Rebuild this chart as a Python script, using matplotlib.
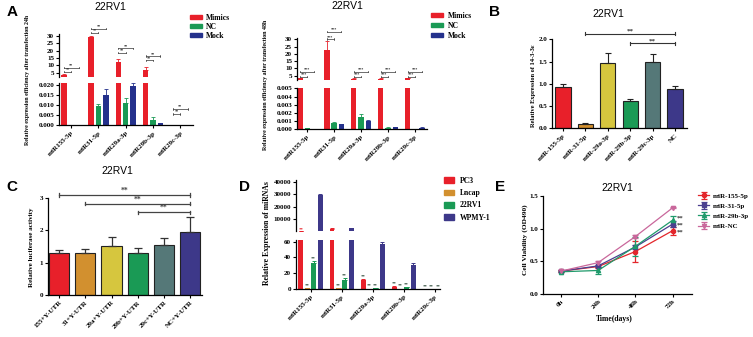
import numpy as np
import matplotlib
matplotlib.use('Agg')
import matplotlib.pyplot as plt
from matplotlib.patches import Patch

# ---- data ----
mirs = ['miR155-5p', 'miR31-5p', 'miR29a-3p', 'miR29b-3p', 'miR29c-3p']

# A: transfection efficiency 24h
mim_24 = [3.5, 29.0, 12.0, 7.0, 0.0]
mim_24_err = [0.4, 1.0, 2.6, 2.0, 0.0]
nc_24 = [0.0, 0.0095, 0.011, 0.0025, 0.0003]
nc_24_err = [0.0, 0.001, 0.0025, 0.0015, 0.0001]
mock_24 = [0.0, 0.015, 0.0195, 0.001, 0.0]
mock_24_err = [0.0, 0.003, 0.0017, 0.0002, 0.0]

# A: transfection efficiency 48h
mim_48 = [3.3, 22.5, 3.0, 3.0, 3.3]
mim_48_err = [0.3, 6.0, 0.3, 0.3, 0.3]
nc_48 = [0.0001, 0.0008, 0.0015, 0.0002, 0.0]
nc_48_err = [0.00003, 0.0001, 0.0004, 0.00005, 0.0]
mock_48 = [0.00005, 0.0006, 0.001, 0.00025, 0.0002]
mock_48_err = [0.00001, 0.00008, 0.0001, 0.00003, 0.00003]

# B: 14-3-3e expression
b_labels = ['miR-155-5p', 'miR-31-5p', 'miR-29a-3p', 'miR-29b-3p', 'miR-29c-3p', 'NC']
b_vals = [0.93, 0.09, 1.47, 0.61, 1.48, 0.88]
b_err = [0.07, 0.02, 0.23, 0.04, 0.2, 0.08]

# C: luciferase
c_labels = ['155+Y-UTR', '31+Y-UTR', '29a+Y-UTR', '29b+Y-UTR', '29c+Y-UTR', 'NC+Y-UTR']
c_vals = [1.28, 1.29, 1.51, 1.28, 1.53, 1.95]
c_err = [0.1, 0.12, 0.27, 0.16, 0.24, 0.45]

# D: miRNA expression in cell lines
pc3 = [300, 2500, 11, 3, 0.3]
pc3_err = [20, 200, 1.5, 0.8, 0.1]
lncap = [1.5, 1.2, 0.5, 0.5, 0.3]
lncap_err = [0.3, 0.3, 0.1, 0.1, 0.1]
rv22 = [33, 12, 0.8, 2, 0.3]
rv22_err = [3, 2, 0.2, 0.4, 0.1]
wpmy = [29000, 3000, 57, 30, 17]
wpmy_err = [800, 300, 3, 3.5, 1.5]

# E: cell viability
times = ['0h', '24h', '48h', '72h']
e155 = [0.35, 0.42, 0.65, 0.97]
e155_err = [0.01, 0.02, 0.16, 0.06]
e31 = [0.35, 0.43, 0.72, 1.07]
e31_err = [0.01, 0.02, 0.03, 0.04]
e29b = [0.34, 0.36, 0.73, 1.13]
e29b_err = [0.01, 0.05, 0.15, 0.07]
enc = [0.35, 0.48, 0.88, 1.32]
enc_err = [0.01, 0.03, 0.03, 0.01]

RED = '#e8202a'
GREEN = '#1a9a55'
NAVY = '#24318c'
ORANGE = '#d2902f'
YELLOW = '#d6c63e'
SLATE = '#557878'
PURPLE = '#3d3889'

W, H = 753, 337
plt.rcParams['font.family'] = 'Liberation Serif'
plt.rcParams['font.weight'] = 'bold'
plt.rcParams['axes.linewidth'] = 0.9

fig = plt.figure(figsize=(7.53, 3.37), dpi=100)


def add_ax(l, t, r, b):
    return fig.add_axes([l / W, 1 - b / H, (r - l) / W, (b - t) / H])


def style(ax, bottom=True):
    ax.spines['top'].set_visible(False)
    ax.spines['right'].set_visible(False)
    ax.tick_params(direction='out', length=2.5, width=0.8, labelsize=5, pad=1)
    if not bottom:
        ax.spines['bottom'].set_visible(False)
        ax.tick_params(axis='x', bottom=False, labelbottom=False)
    ax.patch.set_alpha(0)


def bracket(ax, x1, x2, y, label, h, fs=4.5, lw=0.6, color='#333333'):
    ax.plot([x1, x2], [y, y], color=color, lw=lw, clip_on=False)
    ax.plot([x1, x1], [y - h, y + h], color=color, lw=lw, clip_on=False)
    ax.plot([x2, x2], [y - h, y + h], color=color, lw=lw, clip_on=False)
    ax.text((x1 + x2) / 2, y, label, ha='center', va='bottom', fontsize=fs,
            color=color, clip_on=False)


def fig_text(x, y, s, **kw):
    fig.text(x / W, 1 - y / H, s, **kw)


def ptitle(x, y, s):
    fig_text(x, y, s, ha='center', va='center', fontsize=7.5,
             family='Liberation Sans', weight='normal')


def letter(x, y, s):
    fig_text(x, y, s, ha='center', va='center', fontsize=11,
             family='Liberation Sans', weight='bold')


def up_err(e):
    return [np.zeros(len(e)), e]


def panel_a(box_up, box_low, xlim, mim, mim_e, nc, nc_e, mock, mock_e,
            low_max, low_ticks, fmt, up_levels, low_levels, up_groups, stars):
    l, t1, r, b1 = box_up
    _, t2, _, b2 = box_low
    ax_u = add_ax(l, t1, r, b1)
    ax_l = add_ax(l, t2, r, b2)
    x = np.arange(5)
    off, bw = 0.27, 0.2
    for ax in (ax_u, ax_l):
        for vals, errs, col, dx in ((mim, mim_e, RED, -off), (nc, nc_e, GREEN, 0),
                                    (mock, mock_e, NAVY, off)):
            ax.bar(x + dx, vals, bw, color=col, yerr=up_err(errs),
                   error_kw=dict(ecolor=col, elinewidth=0.6, capsize=1.2, capthick=0.6))
        ax.set_xlim(*xlim)
    ax_u.set_ylim(2, 31)
    ax_u.set_yticks([5, 10, 15, 20, 25, 30])
    style(ax_u, bottom=False)
    ax_l.set_ylim(0, low_max)
    ax_l.set_yticks(low_ticks)
    ax_l.set_yticklabels([fmt.format(v) for v in low_ticks])
    style(ax_l)
    ax_l.set_xticks(x)
    ax_l.set_xticklabels(mirs, rotation=45, ha='right', rotation_mode='anchor', fontsize=5)
    for i in range(5):
        if i in up_groups:
            ax, lv, h = ax_u, up_levels[i], 0.5
        else:
            ax, lv, h = ax_l, low_levels[i], low_max * 0.02
        bracket(ax, i - off, i, lv[0], stars[0], h, fs=3, lw=0.5)
        bracket(ax, i - off, i + off, lv[1], stars[1], h, fs=3, lw=0.5)
    return ax_u, ax_l


# ---- Panel A (24h) ----
ax_u, ax_l = panel_a((59, 34.5, 193, 77), (59, 83.3, 193, 125.5), (-0.45, 4.47),
                     mim_24, mim_24_err, nc_24, nc_24_err, mock_24, mock_24_err,
                     0.021, [0, 0.005, 0.010, 0.015, 0.020], '{:.3f}',
                     {0: (5.7, 8.4), 1: (32.3, 35.0), 2: (18.7, 21.6), 3: (13.4, 16.3)},
                     {4: (0.0058, 0.0083)}, [0, 1, 2, 3], ('**', '**'))
ax_u.legend(handles=[Patch(color=RED, label='Mimics'), Patch(color=GREEN, label='NC'),
                     Patch(color=NAVY, label='Mock')],
            loc='upper left', bbox_to_anchor=(190 / W, 1 - 13.5 / H),
            bbox_transform=fig.transFigure, frameon=False, fontsize=5.5,
            handlelength=1.6, handleheight=0.5, labelspacing=0.15, handletextpad=0.5,
            borderpad=0, borderaxespad=0)
fig_text(28, 80, 'Relative expression efficiency after transfection 24h', rotation=90,
         ha='center', va='center', fontsize=4.2)
ptitle(110, 7, '22RV1')
letter(12, 12, 'A')

# ---- Panel A (48h) ----
ax_u, ax_l = panel_a((297, 37.8, 427, 80.1), (297, 87.5, 427, 129.3), (-0.38, 4.45),
                     mim_48, mim_48_err, nc_48, nc_48_err, mock_48, mock_48_err,
                     0.0051, [0, 0.001, 0.002, 0.003, 0.004, 0.005], '{:.3f}',
                     {0: (4.3, 7.75), 1: (30.2, 35.2), 2: (4.3, 7.75), 3: (4.3, 7.75),
                      4: (4.3, 7.75)},
                     {}, [0, 1, 2, 3, 4], ('***', '***'))
ax_u.legend(handles=[Patch(color=RED, label='Mimics'), Patch(color=GREEN, label='NC'),
                     Patch(color=NAVY, label='Mock')],
            loc='upper left', bbox_to_anchor=(431 / W, 1 - 12 / H),
            bbox_transform=fig.transFigure, frameon=False, fontsize=5.5,
            handlelength=1.6, handleheight=0.5, labelspacing=0.25, handletextpad=0.6,
            borderpad=0, borderaxespad=0)
fig_text(266, 85, 'Relative expression efficiency after transfection 48h', rotation=90,
         ha='center', va='center', fontsize=4.2)
ptitle(347, 6, '22RV1')
letter(495, 12, 'B')

# ---- Panel B ----
axb = add_ax(552, 39.3, 687, 128.3)
xb = np.arange(6)
axb.bar(xb, b_vals, 0.68, color=[RED, ORANGE, YELLOW, GREEN, SLATE, PURPLE],
        edgecolor='#222222', linewidth=0.8, yerr=up_err(b_err),
        error_kw=dict(ecolor='#222222', elinewidth=0.8, capsize=2.5, capthick=0.8))
axb.set_xlim(-0.49, 5.53)
axb.set_ylim(0, 2.0)
axb.set_yticks([0, 0.5, 1.0, 1.5, 2.0])
axb.set_yticklabels(['0.0', '0.5', '1.0', '1.5', '2.0'])
axb.set_xticks(xb)
axb.set_xticklabels(b_labels, rotation=45, ha='right', rotation_mode='anchor', fontsize=5)
style(axb)
bracket(axb, 1, 5, 2.13, '**', 0.03, fs=5, lw=0.8)
bracket(axb, 3, 5, 1.91, '**', 0.03, fs=5, lw=0.8)
fig_text(533, 86, 'Relative Expression of 14-3-3\u03b5', rotation=90, ha='center',
         va='center', fontsize=4.6)
ptitle(608, 14, '22RV1')

# ---- Panel C ----
axc = add_ax(48, 197.7, 202, 295)
xc = np.arange(6)
axc.bar(xc, c_vals, 0.77, color=[RED, ORANGE, YELLOW, GREEN, SLATE, PURPLE],
        edgecolor='#222222', linewidth=0.8, yerr=up_err(c_err),
        error_kw=dict(ecolor='#333333', elinewidth=0.9, capsize=3, capthick=0.9))
axc.set_xlim(-0.43, 5.46)
axc.set_ylim(0, 3)
axc.set_yticks([0, 1, 2, 3])
axc.set_xticks(xc)
axc.set_xticklabels(c_labels, rotation=45, ha='right', rotation_mode='anchor', fontsize=5.5)
style(axc)
bracket(axc, 0, 5, 3.08, '**', 0.05, fs=5.5, lw=0.9, color='#444444')
bracket(axc, 1, 5, 2.81, '**', 0.05, fs=5.5, lw=0.9, color='#444444')
bracket(axc, 3, 5, 2.55, '**', 0.05, fs=5.5, lw=0.9, color='#444444')
fig_text(32, 247, 'Relative luciferase activity', rotation=90, ha='center',
         va='center', fontsize=5)
ptitle(117, 171, '22RV1')
letter(12, 187, 'C')
letter(245, 187, 'D')

# ---- Panel D ----
axd_u = add_ax(296, 180.4, 440, 231.3)
axd_l = add_ax(296, 240, 440, 289)
xd = np.arange(5)
d_series = [(pc3, pc3_err, RED, 'PC3'), (lncap, lncap_err, ORANGE, 'Lncap'),
            (rv22, rv22_err, GREEN, '22RV1'), (wpmy, wpmy_err, PURPLE, 'WPMY-1')]
d_off = [-0.31, -0.1, 0.1, 0.31]
for ax in (axd_u, axd_l):
    for (vals, errs, col, lab), dx in zip(d_series, d_off):
        ax.bar(xd + dx, vals, 0.16, color=col, label=lab, yerr=up_err(errs),
               error_kw=dict(ecolor=col, elinewidth=0.7, capsize=1.3, capthick=0.7))
    ax.set_xlim(-0.47, 4.17)
axd_u.set_ylim(400, 41000)
axd_u.set_yticks([10000, 20000, 30000, 40000])
style(axd_u, bottom=False)
axd_l.set_ylim(0, 62)
axd_l.set_yticks([0, 20, 40, 60])
style(axd_l)
axd_l.set_xticks(xd)
axd_l.set_xticklabels(mirs, rotation=45, ha='right', rotation_mode='anchor', fontsize=5)
for (vals, errs, col, lab), dx in zip(d_series[:3], d_off[:3]):
    for i in range(5):
        top = vals[i] + errs[i]
        if top < 62:
            axd_l.text(i + dx, top + 0.8, '**', ha='center', va='bottom', fontsize=3.5,
                       color='#2e4a3a')
axd_u.text(d_off[0], 400, '**', ha='center', va='bottom', fontsize=3.5, color=RED)
axd_u.legend(handles=[Patch(color=c, label=lab) for _, _, c, lab in d_series],
             loc='upper left', bbox_to_anchor=(444 / W, 1 - 177 / H),
             bbox_transform=fig.transFigure, frameon=False, fontsize=5.5,
             handlelength=1.3, handleheight=0.8, labelspacing=0.55, handletextpad=0.8,
             borderpad=0, borderaxespad=0)
fig_text(267, 233, 'Relative Expression of miRNAs', rotation=90, ha='center',
         va='center', fontsize=5.6)
letter(500, 187, 'E')

# ---- Panel E ----
axe = add_ax(543.3, 196, 691.7, 294)
xe = np.arange(4)
e_series = [(e155, e155_err, '#e3262b', 'o', 'miR-155-5p'),
            (e31, e31_err, '#4b3f8f', 's', 'miR-31-5p'),
            (e29b, e29b_err, '#1f9a6b', '^', 'miR-29b-3p'),
            (enc, enc_err, '#c9679b', 'v', 'miR-NC')]
for vals, errs, col, mk, lab in e_series:
    axe.errorbar(xe, vals, yerr=errs, color=col, marker=mk, markersize=3, lw=0.9,
                 elinewidth=0.9, capsize=2, capthick=0.9, label=lab)
axe.set_xlim(-0.47, 3.51)
axe.set_ylim(0, 1.5)
axe.set_yticks([0, 0.5, 1.0, 1.5])
axe.set_yticklabels(['0.0', '0.5', '1.0', '1.5'])
axe.set_xticks(xe)
axe.set_xticklabels(times, rotation=45, ha='right', rotation_mode='anchor', fontsize=5.5)
style(axe)
for v, dv in ((e29b[3], 0.03), (e31[3], -0.02), (e155[3], -0.03)):
    axe.text(3.12, v + dv, '**', ha='left', va='center', fontsize=4.8, color='#333333')
axe.legend(loc='upper left', bbox_to_anchor=(698 / W, 1 - 193 / H),
           bbox_transform=fig.transFigure, frameon=False, fontsize=5,
           handlelength=1.6, labelspacing=0.6, handletextpad=0.5,
           borderpad=0, borderaxespad=0)
fig_text(525, 240, 'Cell Viability (OD490)', rotation=90, ha='center', va='center',
         fontsize=5.3)
fig_text(614, 319, 'Time(days)', ha='center', va='center', fontsize=5.5)
ptitle(617, 188, '22RV1')

fig.savefig('out.png', dpi=100)
